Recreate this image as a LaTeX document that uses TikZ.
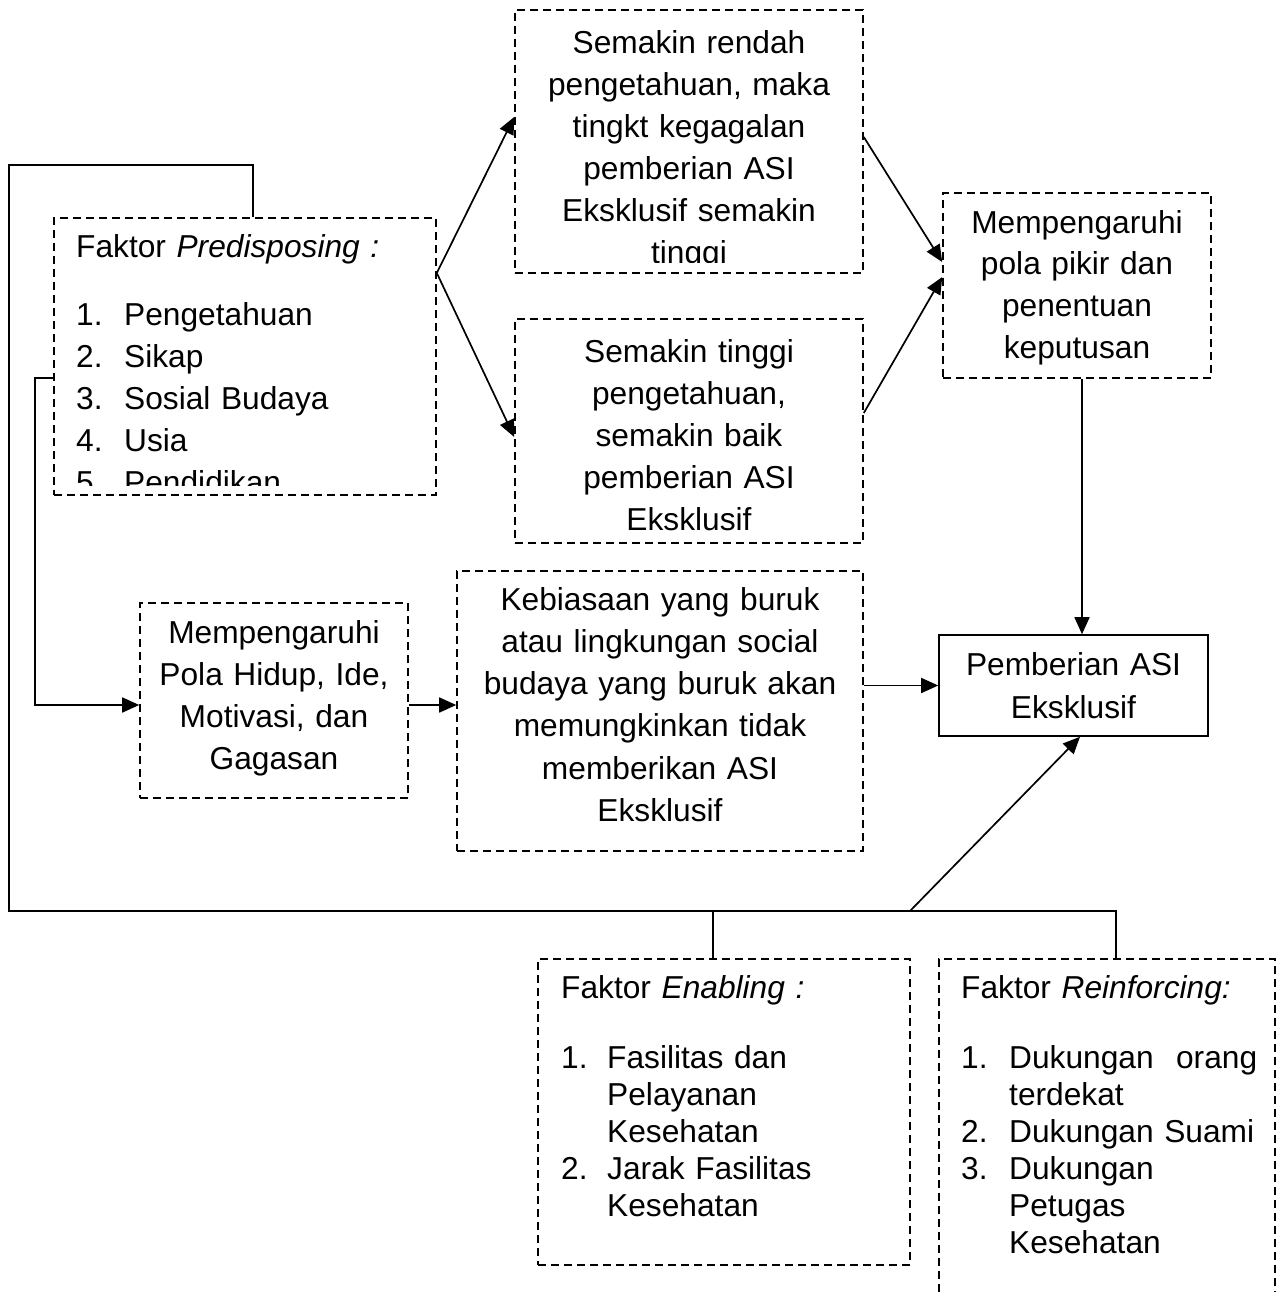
\documentclass[tikz,border=0pt]{standalone}
\usepackage{fontspec}
\setmainfont{Liberation Sans}
\usetikzlibrary{arrows.meta,calc}
\begin{document}
\begin{tikzpicture}[x=1pt,y=-1pt,
  conn/.style={line width=1.7pt},
  arr/.style={line width=1.7pt,-{Triangle[length=17pt,width=15pt]}},
  dbox/.style={draw,dash pattern=on 8pt off 5pt,line width=1.6pt,inner sep=0pt},
  sbox/.style={draw,line width=1.6pt,inner sep=0pt},
  txt/.style={inner sep=0pt,anchor=base,align=center,font=\fontsize{31.7}{42}\selectfont},
  ltxt/.style={inner sep=0pt,anchor=base west,align=left,font=\fontsize{31.7}{42}\selectfont}]
\useasboundingbox[fill=white] (0,0) rectangle (1277,1292);

% boxes
\node[dbox,minimum width=348pt,minimum height=263pt] (rendah) at (689,141.5) {};
\node[dbox,minimum width=348pt,minimum height=224pt] (tinggi) at (689,431) {};
\node[dbox,minimum width=382pt,minimum height=277pt] (pred) at (245,356.5) {};
\node[dbox,minimum width=268pt,minimum height=185pt] (pikir) at (1077,285.5) {};
\node[sbox,minimum width=269pt,minimum height=101pt] (pember) at (1073.5,685.5) {};
\node[dbox,minimum width=268pt,minimum height=195pt] (pola) at (274,700.5) {};
\node[dbox,minimum width=406pt,minimum height=280pt] (keb) at (660,711) {};
\node[dbox,minimum width=372pt,minimum height=306pt] (enab) at (724,1112) {};
\node[dbox,minimum width=336pt,minimum height=381pt] (reinf) at (1107,1149.5) {};

% texts
\begin{scope}
\clip (515,10) rectangle (863,262);
\node[txt,text width=348pt] (trendah) at (689,54) {Semakin rendah\\pengetahuan, maka\\tingkt kegagalan\\pemberian ASI\\Eksklusif semakin\\tinggi};
\end{scope}
\node[txt,text width=348pt] (ttinggi) at (689,362) {Semakin tinggi\\pengetahuan,\\semakin baik\\pemberian ASI\\Eksklusif};
\node[txt,text width=268pt,font=\fontsize{31.7}{41.7}\selectfont] (tpikir) at (1077,233) {Mempengaruhi\\pola pikir dan\\penentuan\\keputusan};
\node[txt,text width=269pt,font=\fontsize{31.7}{43}\selectfont] (tpember) at (1073.5,675) {Pemberian ASI\\Eksklusif};
\node[txt,text width=268pt,font=\fontsize{31.7}{42.3}\selectfont] (tpola) at (274,643) {Mempengaruhi\\Pola Hidup, Ide,\\Motivasi, dan\\Gagasan};
\node[txt,text width=406pt,font=\fontsize{31.7}{42.3}\selectfont] (tkeb) at (660,610) {Kebiasaan yang buruk\\atau lingkungan social\\budaya yang buruk akan\\memungkinkan tidak\\memberikan ASI\\Eksklusif};
\begin{scope}
\clip (54,218) rectangle (436,485);
\node[ltxt,text width=350pt] (tpred) at (76,257) {Faktor \textit{Predisposing :}\\[26pt]
\makebox[48pt][l]{1.}Pengetahuan\\
\makebox[48pt][l]{2.}Sikap\\
\makebox[48pt][l]{3.}Sosial Budaya\\
\makebox[48pt][l]{4.}Usia\\
\makebox[48pt][l]{5.}Pendidikan};
\end{scope}
\node[ltxt,text width=340pt,font=\fontsize{31.7}{37}\selectfont] (tenab) at (561,998) {Faktor \textit{Enabling :}\\[33pt]
\makebox[46pt][l]{1.}Fasilitas dan\\
\hspace*{46pt}Pelayanan\\
\hspace*{46pt}Kesehatan\\
\makebox[46pt][l]{2.}Jarak Fasilitas\\
\hspace*{46pt}Kesehatan};
\node[ltxt,text width=310pt,font=\fontsize{31.7}{37}\selectfont] (treinf) at (961,998) {Faktor \textit{Reinforcing:}\\[33pt]
\makebox[296pt][l]{\makebox[48pt][l]{1.}Dukungan\hfill orang}\\
\hspace*{48pt}terdekat\\
\makebox[48pt][l]{2.}Dukungan Suami\\
\makebox[48pt][l]{3.}Dukungan\\
\hspace*{48pt}Petugas\\
\hspace*{48pt}Kesehatan};

% connectors
\coordinate (tl) at (9,165);
\coordinate (bl) at (9,911);
\coordinate (junc) at (910,911);
\coordinate (es) at ([xshift=176pt]enab.north west);
\draw[conn] ([xshift=200pt]pred.north west) |- (tl) -- (bl) -| ([xshift=178pt]reinf.north west);
\draw[conn] (es) -- (es |- bl);
\draw[arr] (junc) -- ([xshift=6.5pt]pember.south);

\coordinate (lc) at (35,705);
\draw[arr] ([yshift=-21.5pt]pred.west) -| (lc) -- (lc -| pola.west);
\draw[arr] (lc -| pola.east) -- (lc -| keb.west);
\draw[arr] (pember.west -| keb.east) -- (pember.west);

\coordinate (apex) at ([yshift=83.5pt]pred.east);
\draw[arr] (apex) -- ([yshift=24.5pt]rendah.west);
\draw[arr] (apex) -- ([yshift=-6pt]tinggi.west);
\draw[arr] ([yshift=4.5pt]rendah.east) -- ([yshift=23.5pt]pikir.west);
\draw[arr] ([yshift=18pt]tinggi.east) -- ([yshift=8.5pt]pikir.west);
\coordinate (pd) at ([xshift=5pt]pikir.south);
\draw[arr] (pd) -- (pd |- pember.north);
\end{tikzpicture}
\end{document}
